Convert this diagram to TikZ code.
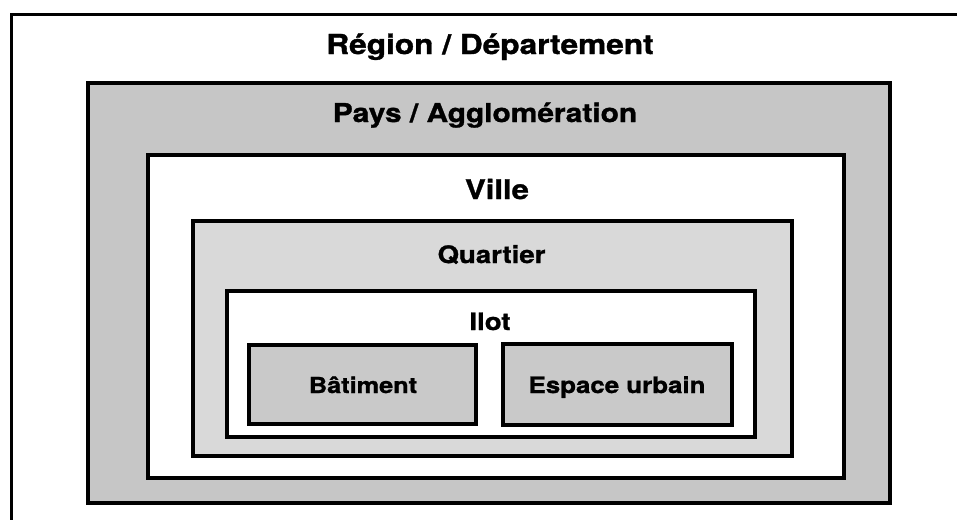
\documentclass[tikz,border=0pt]{standalone}
\usepackage{fontspec}
\setmainfont{TeX Gyre Heros}[FakeStretch=1.15,BoldFeatures={FakeBold=1.2}]
\begin{document}
\begin{tikzpicture}[x=1pt,y=-1pt,
  frame/.style={draw=black,line width=3.2pt,inner sep=0pt,outer sep=0pt},
  lbl/.style={anchor=base,inner sep=0pt,font=\bfseries},
]
\useasboundingbox (0,0) rectangle (957,520);
% outer frame (only top and left visible)
\coordinate (otl) at (11,14);
\coordinate (otr) at (957,14);
\coordinate (obl) at (11,520);
\draw[line width=3pt] (otr) -- (otl) -- (obl);
% boxes
\node[frame,fill=gray!45,minimum width=802pt,minimum height=420pt] (pays) at (489,293) {};
\node[frame,fill=white,minimum width=696pt,minimum height=323pt] (ville) at (496,316.5) {};
\node[frame,fill=gray!30,minimum width=599pt,minimum height=235pt] (quartier) at (492.5,338.5) {};
\node[frame,fill=white,minimum width=528pt,minimum height=146pt] (ilot) at (491,364) {};
\node[frame,fill=gray!42,minimum width=227pt,minimum height=79pt] (bat) at (362.5,384.5) {};
\node[frame,fill=gray!42,minimum width=229pt,minimum height=81pt] (esp) at (617.5,384.5) {};
% labels
\node[lbl,font=\bfseries\fontsize{27.5}{30}\selectfont] (tregion) at (490,54) {Région / Département};
\node[lbl,font=\bfseries\fontsize{26}{30}\selectfont] (tpays) at (485,122) {Pays / Agglomération};
\node[lbl,font=\bfseries\fontsize{27}{30}\selectfont] (tville) at (497,199) {Ville};
\node[lbl,font=\bfseries\fontsize{24}{28}\selectfont] (tquartier) at (491.5,263) {Quartier};
\node[lbl,font=\bfseries\fontsize{24}{28}\selectfont] (tilot) at (490,330) {Ilot};
\node[lbl,font=\bfseries\fontsize{22}{26}\selectfont] (tbat) at (363,393) {Bâtiment};
\node[lbl,font=\bfseries\fontsize{22.5}{26}\selectfont] (tesp) at (617,393) {Espace urbain};
\end{tikzpicture}
\end{document}
